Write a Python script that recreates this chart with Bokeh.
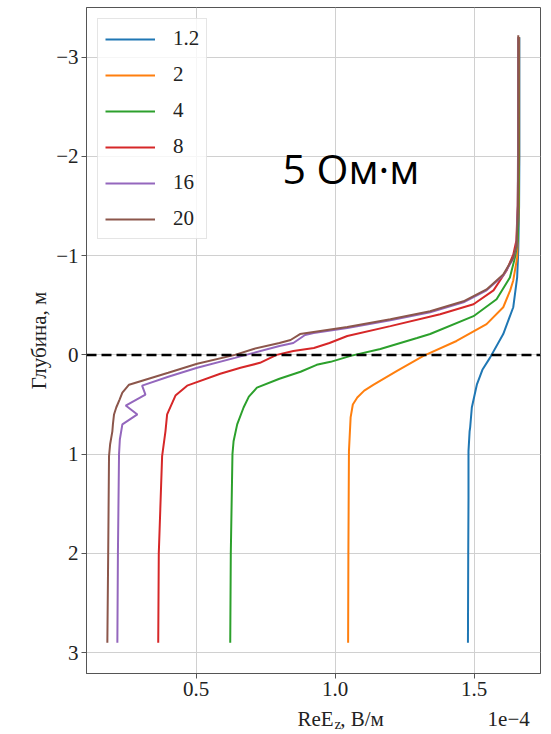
from bokeh.plotting import figure
from bokeh.layouts import column
from bokeh.models import Range1d, FixedTicker, Span, Label
from bokeh.embed import file_html
from bokeh.resources import INLINE

# ReE_z profiles (units of 1e-4 V/m) versus depth (m) for several frequencies
series_names = ["1.2", "2", "4", "8", "16", "20"]
series_colors = ["#1f77b4", "#ff7f0e", "#2ca02c", "#d62728", "#9467bd", "#8c564b"]

depth_12 = [2.90, 2.0, 1.44, 0.97, 0.77, 0.73, 0.53, 0.30, 0.15, 0.03, -0.21, -0.48, -0.78, -1.05, -1.5, -2.0, -3.2]
ree_12 = [1.478, 1.479, 1.480, 1.480, 1.484, 1.486, 1.492, 1.510, 1.530, 1.557, 1.605, 1.641, 1.655, 1.659, 1.662, 1.663, 1.663]

depth_2 = [2.90, 2.0, 0.97, 0.63, 0.50, 0.43, 0.36, 0.30, 0.16, 0.01, -0.14, -0.31, -0.48, -0.65, -0.75, -0.98, -1.5, -2.0, -3.2]
ree_2 = [1.047, 1.048, 1.050, 1.056, 1.064, 1.080, 1.105, 1.139, 1.223, 1.318, 1.437, 1.545, 1.605, 1.630, 1.641, 1.655, 1.661, 1.662, 1.662]

depth_4 = [2.90, 2.0, 1.0, 0.87, 0.70, 0.53, 0.42, 0.33, 0.24, 0.17, 0.10, 0.07, 0.01, -0.06, -0.17, -0.21, -0.39, -0.56, -0.78, -0.98, -1.15, -1.5, -2.0, -3.2]
ree_4 = [0.623, 0.625, 0.631, 0.635, 0.648, 0.671, 0.690, 0.719, 0.800, 0.876, 0.934, 0.984, 1.056, 1.163, 1.295, 1.342, 1.498, 1.581, 1.629, 1.647, 1.657, 1.660, 1.661, 1.661]

depth_8 = [2.90, 2.0, 1.02, 0.77, 0.60, 0.41, 0.31, 0.19, 0.13, 0.08, 0.0, -0.04, -0.07, -0.12, -0.19, -0.29, -0.41, -0.51, -0.65, -0.85, -1.01, -1.15, -1.5, -2.0, -3.2]
ree_8 = [0.364, 0.366, 0.378, 0.390, 0.396, 0.426, 0.468, 0.587, 0.660, 0.730, 0.790, 0.850, 0.924, 0.980, 1.044, 1.199, 1.378, 1.498, 1.570, 1.617, 1.641, 1.652, 1.657, 1.659, 1.660]

depth_16 = [2.90, 2.0, 1.0, 0.85, 0.70, 0.60, 0.51, 0.40, 0.31, 0.22, 0.13, 0.03, -0.02, -0.09, -0.12, -0.20, -0.22, -0.27, -0.35, -0.43, -0.53, -0.65, -0.80, -0.97, -1.10, -1.5, -2.0, -3.2]
ree_16 = [0.217, 0.219, 0.223, 0.226, 0.235, 0.289, 0.247, 0.318, 0.306, 0.400, 0.504, 0.640, 0.707, 0.800, 0.850, 0.892, 0.923, 1.044, 1.199, 1.342, 1.462, 1.545, 1.605, 1.641, 1.653, 1.657, 1.658, 1.659]

depth_20 = [2.90, 2.0, 1.02, 0.90, 0.77, 0.70, 0.60, 0.53, 0.45, 0.38, 0.30, 0.18, 0.09, 0.0, -0.06, -0.12, -0.15, -0.21, -0.23, -0.28, -0.36, -0.44, -0.54, -0.66, -0.81, -0.98, -1.10, -1.5, -2.0, -3.22]
ree_20 = [0.181, 0.184, 0.187, 0.191, 0.199, 0.201, 0.205, 0.213, 0.225, 0.235, 0.259, 0.400, 0.504, 0.640, 0.707, 0.800, 0.840, 0.874, 0.923, 1.044, 1.199, 1.342, 1.462, 1.545, 1.605, 1.641, 1.653, 1.658, 1.659, 1.659]

depths = [depth_12, depth_2, depth_4, depth_8, depth_16, depth_20]
values = [ree_12, ree_2, ree_4, ree_8, ree_16, ree_20]

x_ticks = [0.5, 1.0, 1.5]
x_tick_labels = ["0.5", "1.0", "1.5"]
y_ticks = [-3, -2, -1, 0, 1, 2, 3]
y_tick_labels = ["\u22123", "\u22122", "\u22121", "0", "1", "2", "3"]

SERIF = "Liberation Serif"
FS = "21px"
TEXT = "#222222"

p = figure(width=551, height=705, output_backend="svg", toolbar_location=None,
           x_range=Range1d(0.106, 1.739), y_range=Range1d(3.21, -3.50),
           min_border_left=86, min_border_right=11, min_border_top=7, min_border_bottom=32)

p.background_fill_color = "white"
p.border_fill_color = "white"
p.outline_line_color = "#555555"
p.outline_line_width = 1

for ax in (p.xaxis, p.yaxis):
    ax.axis_line_color = "#555555"
    ax.major_tick_line_color = "#555555"
    ax.major_tick_out = 5
    ax.major_tick_in = 0
    ax.minor_tick_out = 0
    ax.minor_tick_in = 0
    ax.major_label_text_font = SERIF
    ax.major_label_text_font_size = FS
    ax.major_label_text_color = TEXT
    ax.major_label_standoff = 3

p.xaxis.ticker = FixedTicker(ticks=x_ticks)
p.xaxis.major_label_overrides = dict(zip(x_ticks, x_tick_labels))
p.yaxis.ticker = FixedTicker(ticks=y_ticks)
p.yaxis.major_label_overrides = dict(zip(y_ticks, y_tick_labels))

p.yaxis.axis_label = "Глубина, м"
p.yaxis.axis_label_text_font = SERIF
p.yaxis.axis_label_text_font_size = FS
p.yaxis.axis_label_text_font_style = "normal"
p.yaxis.axis_label_text_color = TEXT
p.yaxis.axis_label_standoff = 2

p.grid.grid_line_color = "#d0d0d0"
p.grid.grid_line_width = 1

for name, color, d, v in zip(series_names, series_colors, depths, values):
    p.line(v, d, line_color=color, line_width=2, legend_label=name)

p.add_layout(Span(location=0, dimension="width", line_color="black",
                  line_dash="10 5", line_width=2.5))

leg = p.legend[0]
leg.location = "top_left"
leg.margin = 11
leg.padding = 7
leg.spacing = 11
leg.glyph_width = 50
leg.glyph_height = 24
leg.label_height = 24
leg.label_standoff = 18
leg.label_text_font = SERIF
leg.label_text_font_size = FS
leg.label_text_color = TEXT
leg.border_line_color = "#cccccc"
leg.border_line_width = 1
leg.background_fill_alpha = 0.8

# resistivity annotation
p.add_layout(Label(x=196, y=506, x_units="screen", y_units="screen", text="5 Ом·м",
                   text_font="Open Sans", text_font_size="41px", text_color="black",
                   text_baseline="middle", text_align="left"))

# strip under the chart holding the x-axis title (with subscript) and scale factor
strip = figure(width=551, height=29, output_backend="svg", toolbar_location=None,
               x_range=Range1d(0, 551), y_range=Range1d(0, 29),
               x_axis_type=None, y_axis_type=None, min_border=0)
strip.outline_line_color = None
strip.background_fill_color = "white"
strip.border_fill_color = "white"
strip.grid.visible = False

kw = dict(text_font=SERIF, text_color=TEXT, text_baseline="middle")
strip.add_layout(Label(x=300, y=16, text="ReE", text_align="right", text_font_size=FS, **kw))
strip.add_layout(Label(x=301, y=11, text="z", text_align="left", text_font_size="15px", **kw))
strip.add_layout(Label(x=308, y=16, text=", В/м", text_align="left", text_font_size=FS, **kw))
strip.add_layout(Label(x=538, y=16, text="1e\u22124", text_align="right", text_font_size=FS, **kw))

layout = column(p, strip, spacing=0)

open("out.html", "w").write(file_html(layout, INLINE))
